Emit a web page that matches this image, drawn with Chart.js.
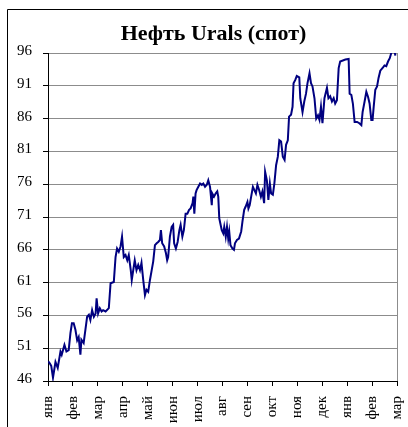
<!DOCTYPE html>
<html>
<head>
<meta charset="utf-8">
<script src="https://cdn.jsdelivr.net/npm/chart.js@4/dist/chart.umd.min.js"></script>
<style>
  html, body { margin: 0; padding: 0; background: #ffffff; }
  canvas { display: block; }
</style>
</head>
<body>
<canvas id="c" width="408" height="427"></canvas>
<script>
// ---- data ----
const chartTitle = 'Нефть Urals (спот)';
const monthLabels = ['янв','фев','мар','апр','май','июн','июл','авг','сен','окт','ноя','дек','янв','фев','мар'];
const yTicks = [46, 51, 56, 61, 66, 71, 76, 81, 86, 91, 96];
// time in months since the first January
const tMonths = [
  0.01,0.07,0.13,0.20,0.30,0.39,0.50,0.55,0.66,0.74,
  0.83,0.90,0.96,1.03,1.10,1.17,1.23,1.30,1.34,1.43,
  1.50,1.57,1.64,1.70,1.77,1.84,1.91,1.95,2.01,2.08,
  2.15,2.21,2.31,2.44,2.51,2.64,2.71,2.77,2.84,2.91,
  2.97,3.04,3.11,3.18,3.24,3.32,3.36,3.48,3.55,3.62,
  3.69,3.75,3.82,3.89,3.95,4.02,4.09,4.16,4.22,4.29,
  4.36,4.42,4.49,4.53,4.58,4.66,4.73,4.78,4.82,4.89,
  4.96,5.02,5.06,5.13,5.20,5.27,5.32,5.39,5.45,5.52,
  5.59,5.66,5.72,5.80,5.83,5.87,5.92,5.96,6.03,6.10,
  6.17,6.23,6.30,6.37,6.43,6.50,6.57,6.59,6.66,6.73,
  6.79,6.83,6.87,6.97,7.03,7.07,7.13,7.18,7.23,7.27,
  7.32,7.40,7.46,7.50,7.58,7.66,7.75,7.80,7.87,7.93,
  8.00,8.04,8.09,8.15,8.22,8.28,8.34,8.40,8.47,8.54,
  8.60,8.67,8.71,8.78,8.84,8.90,8.95,9.02,9.08,9.15,
  9.22,9.28,9.35,9.42,9.49,9.55,9.62,9.67,9.75,9.81,
  9.85,9.92,9.98,10.08,10.12,10.21,10.28,10.35,10.41,10.49,
  10.55,10.61,10.69,10.76,10.83,10.89,10.95,11.01,11.09,11.19,
  11.25,11.32,11.39,11.46,11.52,11.59,11.66,11.72,11.93,12.06,
  12.10,12.17,12.23,12.30,12.40,12.49,12.57,12.62,12.70,12.77,
  12.84,12.90,12.97,13.02,13.06,13.13,13.20,13.26,13.33,13.44,
  13.50,13.57,13.64,13.71,13.77,13.83,13.89,13.94
];
const uralsPrice = [
  49.0,48.7,48.3,46.5,48.9,48.0,50.5,50.0,51.5,50.5,
  50.7,53.3,54.8,54.8,53.8,52.2,52.7,50.0,52.3,51.8,
  53.8,55.8,56.1,55.3,56.8,55.8,56.3,58.6,56.3,57.1,
  56.6,56.8,56.6,57.1,60.9,61.1,64.9,66.2,65.7,66.5,
  68.0,64.9,65.2,64.4,65.2,62.9,61.4,64.4,62.9,63.7,
  62.9,64.0,61.4,59.1,59.9,59.6,61.4,62.9,64.2,66.7,
  67.0,67.2,67.5,69.0,67.0,66.5,65.5,64.4,64.9,68.0,
  69.5,69.8,67.0,66.2,67.2,69.0,69.8,68.0,69.0,71.5,
  71.5,72.1,72.3,73.1,74.1,71.5,74.6,75.1,75.6,76.1,
  75.9,76.1,75.6,75.9,76.6,75.6,72.8,74.6,74.1,74.6,
  74.9,74.1,70.8,69.0,68.5,69.5,68.0,69.5,67.7,68.8,
  66.7,66.2,66.0,67.0,67.5,67.7,68.8,70.3,72.1,72.6,
  73.3,72.3,72.8,74.1,75.6,75.1,74.6,75.9,75.1,74.1,
  74.9,73.1,77.9,76.6,73.6,76.1,74.6,74.4,76.1,78.9,
  80.2,82.7,82.5,80.2,79.7,82.0,82.7,86.3,86.6,87.8,
  91.4,91.9,92.5,92.3,89.1,87.0,88.6,89.8,91.4,92.9,
  91.4,90.9,89.1,86.0,86.5,85.8,87.8,85.3,89.1,90.7,
  89.1,89.4,88.6,89.1,88.3,88.8,93.7,94.7,95.0,95.1,
  89.8,89.6,88.3,85.5,85.5,85.3,85.0,87.0,88.6,90.1,
  89.3,88.3,85.8,85.8,87.6,90.4,90.9,92.2,93.3,93.8,
  94.1,94.0,94.7,95.2,96.0,96.3,96.3,95.6
];

const points = tMonths.map((t, i) => ({ x: t, y: uralsPrice[i] }));
const serif = "'Liberation Serif', 'Times New Roman', serif";

const decor = {
  id: 'decor',
  beforeDraw(chart) {
    const ctx = chart.ctx;
    ctx.save();
    ctx.fillStyle = '#ffffff';
    ctx.fillRect(0, 0, chart.width, chart.height);
    ctx.restore();
  },
  afterDraw(chart) {
    const ctx = chart.ctx;
    const a = chart.chartArea;
    ctx.save();
    // right border of plot area
    ctx.strokeStyle = '#8c8c8c';
    ctx.lineWidth = 1;
    ctx.beginPath();
    ctx.moveTo(Math.round(a.right) + 0.5, a.top);
    ctx.lineTo(Math.round(a.right) + 0.5, a.bottom);
    ctx.stroke();
    // outer frame
    ctx.strokeStyle = '#000000';
    ctx.lineWidth = 1;
    ctx.beginPath();
    ctx.moveTo(7.5, chart.height + 5);
    ctx.lineTo(7.5, 9.5);
    ctx.lineTo(chart.width + 5, 9.5);
    ctx.stroke();
    // title
    ctx.fillStyle = '#000000';
    ctx.font = 'bold 22px ' + serif;
    ctx.textAlign = 'center';
    ctx.textBaseline = 'alphabetic';
    ctx.fillText(chartTitle, 213.5, 40);
    ctx.restore();
  }
};

new Chart(document.getElementById('c'), {
  type: 'line',
  data: {
    datasets: [{
      data: points,
      borderColor: '#000080',
      borderWidth: 2,
      pointRadius: 0,
      tension: 0,
      fill: false
    }]
  },
  options: {
    responsive: false,
    animation: false,
    events: [],
    layout: { padding: { top: 53, right: 11, left: 0, bottom: 0 } },
    plugins: { legend: { display: false }, title: { display: false }, tooltip: { enabled: false } },
    scales: {
      x: {
        type: 'linear',
        min: 0,
        max: monthLabels.length - 1,
        afterBuildTicks(scale) { scale.ticks = monthLabels.map((_, i) => ({ value: i })); },
        afterFit(scale) { scale.height = 46; scale.paddingLeft = 0; scale.paddingRight = 0; },
        grid: { drawOnChartArea: false, tickLength: 5, tickColor: '#000000' },
        border: { color: '#000000', width: 1 },
        ticks: {
          autoSkip: false,
          minRotation: 90,
          maxRotation: 90,
          padding: 10,
          color: '#000000',
          font: { family: serif, size: 15 },
          callback: (v) => monthLabels[v]
        }
      },
      y: {
        min: yTicks[0],
        max: yTicks[yTicks.length - 1],
        afterBuildTicks(scale) { scale.ticks = yTicks.map(v => ({ value: v })); },
        afterFit(scale) { scale.width = 48; scale.paddingTop = 0; scale.paddingBottom = 0; },
        grid: { color: '#8c8c8c', lineWidth: 1, tickLength: 5, tickColor: '#000000' },
        border: { color: '#000000', width: 1 },
        ticks: {
          padding: 11,
          labelOffset: -2,
          color: '#000000',
          font: { family: serif, size: 15 }
        }
      }
    }
  },
  plugins: [decor]
});
</script>
</body>
</html>
